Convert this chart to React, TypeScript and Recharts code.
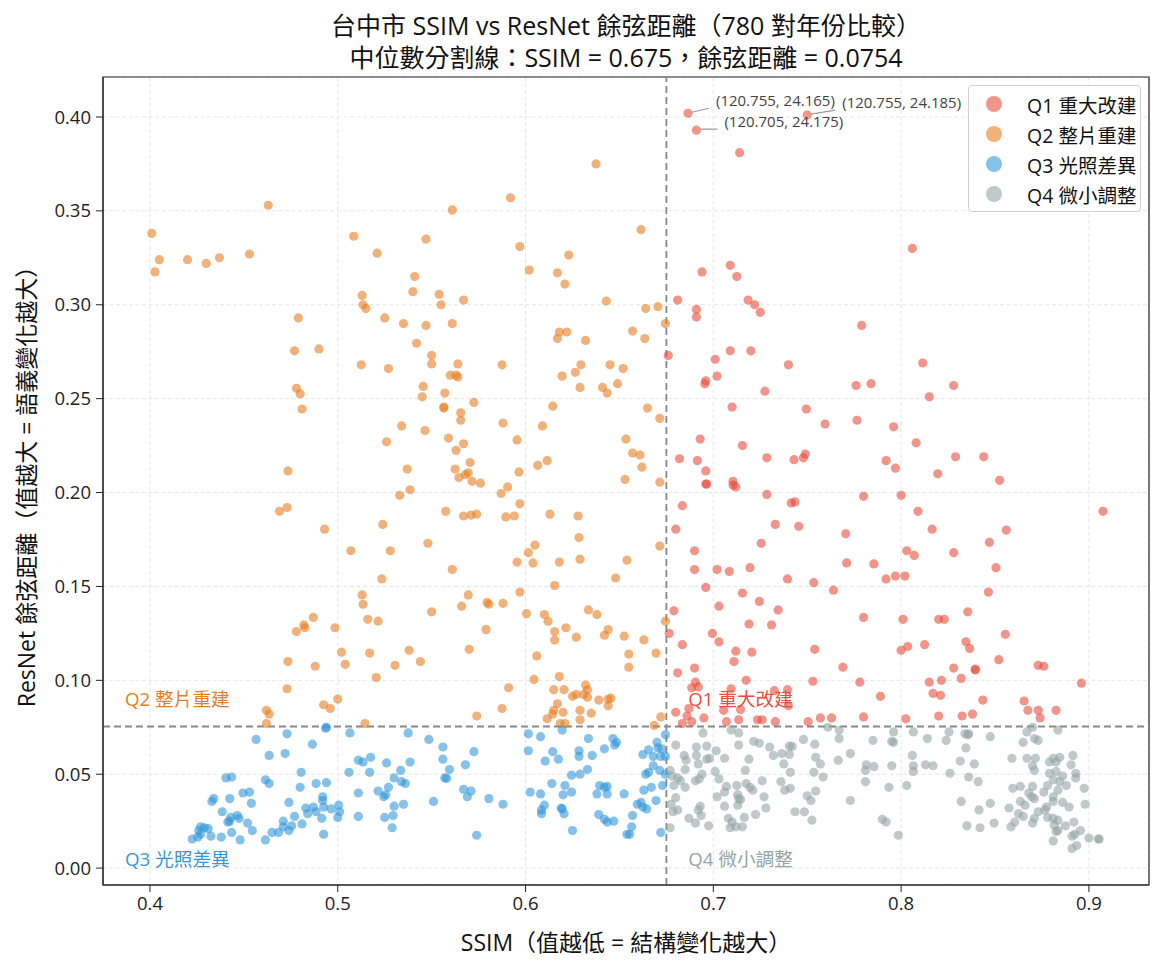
import React from "react";
import {
  ScatterChart,
  Scatter,
  XAxis,
  YAxis,
  CartesianGrid,
  ReferenceLine,
  ReferenceDot,
  ReferenceArea,
} from "recharts";

const FONT = '"Open Sans", "Noto Sans CJK TC", sans-serif';

// [SSIM, ResNet cosine distance]
const q1Points: [number, number][] = [
  [0.6865, 0.402], [0.691, 0.393], [0.714, 0.381], [0.75, 0.401], [0.806, 0.33],
  [0.694, 0.3175], [0.709, 0.321], [0.7125, 0.315], [0.681, 0.3025], [0.691, 0.2975],
  [0.691, 0.2935], [0.7185, 0.3025], [0.722, 0.3], [0.725, 0.296], [0.779, 0.289],
  [0.676, 0.273], [0.701, 0.271], [0.709, 0.2755], [0.72, 0.2755], [0.74, 0.268],
  [0.702, 0.262], [0.696, 0.2595], [0.6955, 0.258], [0.7275, 0.254], [0.776, 0.257],
  [0.784, 0.258], [0.71, 0.2455], [0.7495, 0.2445], [0.7595, 0.2365], [0.7765, 0.2385],
  [0.693, 0.2285], [0.7155, 0.225], [0.682, 0.218], [0.6915, 0.217], [0.7285, 0.2185],
  [0.743, 0.2175], [0.748, 0.2185], [0.749, 0.2205], [0.792, 0.217], [0.696, 0.2115],
  [0.696, 0.2045], [0.6965, 0.2045], [0.7105, 0.206], [0.7105, 0.204], [0.712, 0.203],
  [0.7285, 0.199], [0.78, 0.198], [0.6835, 0.193], [0.7415, 0.1945], [0.7435, 0.195],
  [0.733, 0.183], [0.7455, 0.182], [0.68, 0.1805], [0.7705, 0.178], [0.7255, 0.173],
  [0.69, 0.169], [0.69, 0.159], [0.702, 0.159], [0.7085, 0.158], [0.7195, 0.16],
  [0.771, 0.1625], [0.7855, 0.162], [0.7395, 0.154], [0.7535, 0.152], [0.792, 0.154],
  [0.696, 0.1495], [0.764, 0.148], [0.7155, 0.1465], [0.703, 0.1395], [0.7245, 0.142],
  [0.7345, 0.1375], [0.679, 0.137], [0.78, 0.1335],
  [0.8115, 0.269], [0.828, 0.257], [0.815, 0.251], [0.796, 0.235], [0.808, 0.2265],
  [0.797, 0.213], [0.829, 0.219], [0.844, 0.219], [0.8195, 0.21], [0.8525, 0.2065],
  [0.8, 0.1985], [0.809, 0.19], [0.9075, 0.19], [0.8165, 0.1805], [0.856, 0.18],
  [0.847, 0.1735], [0.803, 0.169], [0.807, 0.1665], [0.828, 0.168], [0.8505, 0.16],
  [0.797, 0.1555], [0.802, 0.1555], [0.8465, 0.147], [0.8355, 0.1365], [0.801, 0.1325],
  [0.82, 0.1325], [0.823, 0.1325],
  [0.8555, 0.1245], [0.8, 0.116], [0.8035, 0.118], [0.8125, 0.119], [0.8345, 0.1205],
  [0.8365, 0.117], [0.852, 0.111], [0.828, 0.1065], [0.8395, 0.106], [0.8395, 0.1055],
  [0.873, 0.108], [0.876, 0.1075], [0.832, 0.101], [0.815, 0.099], [0.8215, 0.1],
  [0.896, 0.0985], [0.817, 0.093], [0.821, 0.092], [0.8435, 0.0895], [0.8655, 0.089],
  [0.8675, 0.084], [0.873, 0.084], [0.8825, 0.084], [0.874, 0.08], [0.8025, 0.0795],
  [0.82, 0.081], [0.8325, 0.081], [0.838, 0.082],
  [0.719, 0.13], [0.731, 0.1295], [0.6765, 0.125], [0.6995, 0.125], [0.6835, 0.119],
  [0.703, 0.1205], [0.712, 0.1155], [0.7205, 0.115], [0.711, 0.11], [0.754, 0.1165],
  [0.69, 0.1065], [0.681, 0.104], [0.769, 0.107], [0.7175, 0.1], [0.753, 0.0995],
  [0.778, 0.099], [0.6905, 0.099], [0.6885, 0.096], [0.692, 0.0965], [0.789, 0.0915],
  [0.7095, 0.0955], [0.7325, 0.0945], [0.7395, 0.095], [0.74, 0.0865], [0.687, 0.085],
  [0.68, 0.083], [0.7145, 0.0845], [0.7055, 0.084], [0.686, 0.081], [0.695, 0.08],
  [0.6835, 0.077], [0.6885, 0.078], [0.707, 0.078], [0.7135, 0.079], [0.7235, 0.079],
  [0.726, 0.079], [0.733, 0.078], [0.7505, 0.078], [0.757, 0.08], [0.763, 0.08],
  [0.78, 0.0805],
];

const q2Points: [number, number][] = [
  [0.401, 0.338], [0.4027, 0.3175], [0.405, 0.324], [0.42, 0.324], [0.43, 0.322],
  [0.437, 0.325], [0.453, 0.327], [0.463, 0.353], [0.5085, 0.3365], [0.513, 0.305],
  [0.5135, 0.3], [0.515, 0.298], [0.479, 0.293], [0.49, 0.2765],
  [0.6375, 0.375], [0.592, 0.357], [0.561, 0.3505], [0.547, 0.335], [0.521, 0.3275],
  [0.597, 0.331], [0.623, 0.3265], [0.602, 0.3185], [0.617, 0.317], [0.621, 0.311],
  [0.541, 0.315], [0.54, 0.307], [0.554, 0.3055], [0.555, 0.3], [0.567, 0.3025],
  [0.643, 0.302], [0.525, 0.293], [0.535, 0.29], [0.547, 0.289], [0.561, 0.29],
  [0.542, 0.2795], [0.618, 0.2855], [0.617, 0.282], [0.622, 0.2855], [0.632, 0.281],
  [0.6615, 0.34], [0.664, 0.298], [0.6705, 0.299], [0.6745, 0.29], [0.657, 0.286],
  [0.6635, 0.282],
  [0.477, 0.2755], [0.5125, 0.268], [0.478, 0.2555], [0.48, 0.2525], [0.481, 0.2445],
  [0.4735, 0.2115], [0.473, 0.192], [0.469, 0.19], [0.493, 0.1805], [0.507, 0.169],
  [0.513, 0.1455], [0.5135, 0.1405], [0.487, 0.1335],
  [0.527, 0.266], [0.55, 0.273], [0.55, 0.2685], [0.564, 0.2685], [0.56, 0.2625],
  [0.563, 0.2625], [0.564, 0.2615], [0.5875, 0.268], [0.5455, 0.2565], [0.545, 0.251],
  [0.557, 0.253], [0.5565, 0.2455], [0.5565, 0.245], [0.5725, 0.248], [0.5655, 0.2425],
  [0.5655, 0.2385], [0.534, 0.2355], [0.5465, 0.233], [0.588, 0.237], [0.526, 0.227],
  [0.559, 0.229], [0.567, 0.226], [0.563, 0.2225], [0.5955, 0.228], [0.5705, 0.216],
  [0.537, 0.2125], [0.5625, 0.2125], [0.5695, 0.2105], [0.568, 0.2095], [0.5645, 0.208],
  [0.5715, 0.206], [0.576, 0.205], [0.5965, 0.211], [0.5385, 0.2015], [0.533, 0.1985],
  [0.587, 0.1995], [0.5905, 0.203], [0.597, 0.194], [0.5575, 0.19], [0.567, 0.1875],
  [0.571, 0.188], [0.574, 0.1885], [0.5895, 0.187], [0.594, 0.1875], [0.524, 0.183],
  [0.548, 0.173], [0.528, 0.169], [0.561, 0.159], [0.5235, 0.154], [0.6065, 0.2145],
  [0.6115, 0.217], [0.6145, 0.246], [0.609, 0.2355], [0.6195, 0.262], [0.6265, 0.264],
  [0.6295, 0.268], [0.629, 0.256], [0.641, 0.256], [0.6435, 0.253], [0.645, 0.268],
  [0.649, 0.258], [0.652, 0.266], [0.6535, 0.2285], [0.653, 0.207], [0.613, 0.1885],
  [0.628, 0.1875], [0.6285, 0.176], [0.629, 0.1645], [0.618, 0.163], [0.605, 0.172],
  [0.6015, 0.168], [0.604, 0.1625], [0.5955, 0.163], [0.648, 0.1545], [0.6155, 0.1505],
  [0.597, 0.147], [0.5695, 0.1455], [0.566, 0.1395], [0.5795, 0.1415], [0.5805, 0.1405],
  [0.588, 0.141], [0.55, 0.1365], [0.6005, 0.1355], [0.61, 0.135], [0.6335, 0.1375],
  [0.638, 0.135], [0.654, 0.164],
  [0.665, 0.245], [0.6715, 0.2395], [0.657, 0.221], [0.661, 0.22], [0.662, 0.2135],
  [0.6715, 0.2055], [0.6715, 0.1715],
  [0.6745, 0.1315], [0.663, 0.1215], [0.6695, 0.1145], [0.655, 0.114], [0.655, 0.107],
  [0.672, 0.0805], [0.6685, 0.076],
  [0.516, 0.1325], [0.5215, 0.1315], [0.579, 0.127], [0.517, 0.1145], [0.538, 0.116],
  [0.5305, 0.108], [0.544, 0.11], [0.57, 0.1165], [0.5205, 0.1015], [0.591, 0.096],
  [0.5875, 0.085], [0.574, 0.081], [0.5145, 0.077], [0.612, 0.1315], [0.6215, 0.128],
  [0.6155, 0.126], [0.6155, 0.1215], [0.627, 0.123], [0.642, 0.124], [0.644, 0.127],
  [0.6525, 0.1235], [0.606, 0.113], [0.6045, 0.1005], [0.618, 0.102], [0.615, 0.095],
  [0.6205, 0.095], [0.632, 0.0975], [0.633, 0.095], [0.625, 0.0915], [0.627, 0.0925],
  [0.631, 0.0925], [0.633, 0.091], [0.639, 0.0895], [0.644, 0.09], [0.6455, 0.0905],
  [0.644, 0.0865], [0.617, 0.0875], [0.615, 0.084], [0.6145, 0.082], [0.62, 0.083],
  [0.629, 0.084], [0.635, 0.0825], [0.6115, 0.0795], [0.629, 0.079], [0.6185, 0.077],
  [0.621, 0.077],
  [0.478, 0.126], [0.482, 0.1295], [0.4825, 0.128], [0.4985, 0.128], [0.4735, 0.11],
  [0.488, 0.1075], [0.502, 0.115], [0.504, 0.1085], [0.473, 0.0955], [0.5, 0.09],
  [0.4925, 0.087], [0.496, 0.085], [0.462, 0.084], [0.4635, 0.082], [0.462, 0.077],
];

const q3Points: [number, number][] = [
  [0.494, 0.075], [0.4935, 0.0745], [0.473, 0.0715], [0.4565, 0.0685], [0.5065, 0.072],
  [0.4865, 0.066], [0.4635, 0.06], [0.472, 0.061], [0.511, 0.0575], [0.5135, 0.0565],
  [0.506, 0.051], [0.4805, 0.051], [0.4405, 0.048], [0.4435, 0.0485], [0.4615, 0.047],
  [0.4635, 0.045], [0.494, 0.0455], [0.4885, 0.045], [0.48, 0.043], [0.4495, 0.04],
  [0.453, 0.0405], [0.511, 0.04], [0.434, 0.037], [0.433, 0.0355], [0.4425, 0.037],
  [0.454, 0.0345], [0.474, 0.035], [0.492, 0.038], [0.492, 0.036], [0.4925, 0.0325],
  [0.483, 0.032], [0.487, 0.0325], [0.484, 0.029], [0.4885, 0.03], [0.4965, 0.0315],
  [0.5005, 0.0335], [0.501, 0.03], [0.5, 0.027], [0.4915, 0.0265], [0.511, 0.0275],
  [0.477, 0.0275], [0.4385, 0.03], [0.443, 0.027], [0.4465, 0.028], [0.4475, 0.0265],
  [0.4415, 0.0245], [0.4425, 0.025], [0.452, 0.024], [0.471, 0.025], [0.481, 0.0235],
  [0.4545, 0.02], [0.4435, 0.019], [0.471, 0.022], [0.4755, 0.0225], [0.474, 0.02],
  [0.4685, 0.019], [0.465, 0.019], [0.427, 0.022], [0.429, 0.0215], [0.431, 0.021],
  [0.426, 0.02], [0.427, 0.018], [0.4325, 0.017], [0.4255, 0.0165], [0.4225, 0.0155],
  [0.438, 0.0165], [0.448, 0.015], [0.4615, 0.015], [0.4925, 0.018],
  [0.5375, 0.072], [0.5485, 0.0685], [0.556, 0.0645], [0.556, 0.058], [0.5595, 0.0525],
  [0.5725, 0.062], [0.568, 0.055], [0.557, 0.048], [0.558, 0.0478], [0.5175, 0.059],
  [0.526, 0.056], [0.5385, 0.0565], [0.517, 0.051], [0.5335, 0.052], [0.53, 0.048],
  [0.534, 0.046], [0.536, 0.045], [0.5215, 0.041], [0.527, 0.043], [0.5245, 0.038],
  [0.5255, 0.039], [0.53, 0.033], [0.535, 0.034], [0.525, 0.027], [0.5295, 0.028],
  [0.529, 0.0215], [0.551, 0.0355], [0.567, 0.042], [0.571, 0.041], [0.569, 0.038],
  [0.5805, 0.037], [0.588, 0.034], [0.574, 0.0175], [0.6015, 0.0715], [0.608, 0.07],
  [0.6195, 0.0735], [0.6015, 0.0625], [0.6145, 0.062], [0.6105, 0.057], [0.6175, 0.058],
  [0.6335, 0.069], [0.6285, 0.0625], [0.6285, 0.0595], [0.6355, 0.06], [0.642, 0.0635],
  [0.6465, 0.069], [0.6475, 0.0655], [0.6485, 0.067], [0.6245, 0.0495], [0.629, 0.05],
  [0.633, 0.0525], [0.614, 0.045], [0.621, 0.044], [0.6025, 0.0405], [0.608, 0.0395],
  [0.62, 0.039], [0.6245, 0.0405], [0.6395, 0.044], [0.642, 0.043], [0.6435, 0.0435],
  [0.638, 0.0395], [0.6435, 0.0395], [0.6525, 0.0395], [0.61, 0.0335], [0.6085, 0.031],
  [0.6085, 0.029], [0.619, 0.032], [0.6195, 0.0315], [0.6205, 0.029], [0.639, 0.0285],
  [0.642, 0.026], [0.6435, 0.0245], [0.647, 0.025], [0.625, 0.02], [0.654, 0.018],
  [0.6745, 0.071], [0.67, 0.067], [0.6625, 0.0605], [0.6655, 0.063], [0.6705, 0.064],
  [0.6725, 0.0635], [0.668, 0.0595], [0.672, 0.0595], [0.6745, 0.0595], [0.668, 0.0545],
  [0.6715, 0.052], [0.664, 0.05], [0.6655, 0.051], [0.6745, 0.05], [0.673, 0.044],
  [0.667, 0.043], [0.663, 0.0415], [0.6695, 0.036], [0.6595, 0.034], [0.6615, 0.035],
  [0.6625, 0.0325], [0.6645, 0.0315], [0.657, 0.028], [0.6565, 0.022], [0.6555, 0.018],
  [0.672, 0.019],
];

const q4Points: [number, number][] = [
  [0.6945, 0.072], [0.7095, 0.0735], [0.7135, 0.072], [0.68, 0.0655], [0.691, 0.0645],
  [0.6965, 0.065], [0.7135, 0.0655], [0.7215, 0.0675], [0.7245, 0.0665], [0.73, 0.0645],
  [0.7405, 0.065], [0.742, 0.0648], [0.748, 0.0685], [0.754, 0.066], [0.761, 0.075],
  [0.767, 0.0735], [0.767, 0.069], [0.785, 0.068], [0.6845, 0.06], [0.691, 0.06],
  [0.7015, 0.0625], [0.6855, 0.0575], [0.692, 0.0555], [0.6965, 0.058], [0.698, 0.0585],
  [0.706, 0.0585], [0.719, 0.058], [0.732, 0.06], [0.7365, 0.061], [0.7405, 0.0605],
  [0.7545, 0.059], [0.757, 0.0555], [0.773, 0.061], [0.7665, 0.0575], [0.7375, 0.0555],
  [0.677, 0.052], [0.685, 0.0525], [0.694, 0.05], [0.701, 0.0515], [0.717, 0.052],
  [0.741, 0.051], [0.7535, 0.051], [0.7815, 0.055], [0.7855, 0.054], [0.781, 0.052],
  [0.678, 0.049], [0.681, 0.048], [0.6825, 0.0465], [0.6925, 0.0475], [0.6905, 0.0465],
  [0.703, 0.0475], [0.679, 0.044], [0.685, 0.043], [0.707, 0.0435], [0.7125, 0.044],
  [0.7175, 0.045], [0.7195, 0.043], [0.721, 0.0415], [0.726, 0.0465], [0.736, 0.046],
  [0.738, 0.0415], [0.741, 0.0425], [0.7585, 0.0485], [0.7545, 0.041], [0.781, 0.046],
  [0.706, 0.0405], [0.713, 0.039], [0.7135, 0.037], [0.7145, 0.0365], [0.702, 0.038],
  [0.727, 0.038], [0.75, 0.0385], [0.752, 0.036], [0.773, 0.036], [0.68, 0.0375],
  [0.6775, 0.034], [0.706, 0.033], [0.713, 0.0335], [0.693, 0.033], [0.692, 0.031],
  [0.6785, 0.03], [0.681, 0.031], [0.728, 0.032], [0.7435, 0.03], [0.7485, 0.03],
  [0.7225, 0.0285], [0.6935, 0.028], [0.687, 0.0265], [0.708, 0.0265], [0.71, 0.0245],
  [0.7165, 0.027], [0.7525, 0.0255], [0.6905, 0.024], [0.6975, 0.0225], [0.709, 0.0215],
  [0.712, 0.022], [0.7155, 0.022], [0.677, 0.0215], [0.79, 0.026], [0.792, 0.0245],
  [0.796, 0.0725], [0.8065, 0.0725], [0.8255, 0.0725], [0.834, 0.0715], [0.836, 0.0715],
  [0.8355, 0.071], [0.814, 0.069], [0.824, 0.068], [0.8475, 0.07], [0.87, 0.075],
  [0.867, 0.0725], [0.8835, 0.0735], [0.871, 0.069], [0.873, 0.068], [0.865, 0.067],
  [0.795, 0.0675], [0.796, 0.067], [0.8345, 0.064], [0.806, 0.06], [0.795, 0.0545],
  [0.8065, 0.0545], [0.8065, 0.0515], [0.813, 0.055], [0.817, 0.0545], [0.8315, 0.057],
  [0.839, 0.0555], [0.826, 0.0505], [0.836, 0.0485], [0.841, 0.046], [0.859, 0.0585],
  [0.867, 0.0585], [0.8715, 0.0585], [0.87, 0.0545], [0.871, 0.052], [0.879, 0.0565],
  [0.881, 0.0585], [0.8845, 0.059], [0.8915, 0.06], [0.8905, 0.055], [0.8825, 0.0565],
  [0.879, 0.0505], [0.8825, 0.0515], [0.886, 0.049], [0.893, 0.0505], [0.893, 0.048],
  [0.881, 0.047], [0.8845, 0.046], [0.888, 0.044], [0.878, 0.044], [0.8975, 0.0425],
  [0.8835, 0.0415], [0.87, 0.0435], [0.876, 0.0405], [0.8635, 0.0435], [0.8595, 0.0425],
  [0.868, 0.04], [0.871, 0.037], [0.8695, 0.038], [0.881, 0.038], [0.881, 0.0355],
  [0.886, 0.035], [0.8895, 0.0325], [0.898, 0.034], [0.8635, 0.0355], [0.866, 0.0335],
  [0.8575, 0.032], [0.873, 0.03], [0.8775, 0.0325], [0.8765, 0.031], [0.8625, 0.029],
  [0.865, 0.0275], [0.871, 0.0265], [0.87, 0.024], [0.878, 0.027], [0.881, 0.0265],
  [0.8835, 0.0255], [0.892, 0.0245], [0.8605, 0.0245], [0.8585, 0.022], [0.8815, 0.023],
  [0.8875, 0.0225], [0.8825, 0.0195], [0.8835, 0.02], [0.8955, 0.02], [0.8925, 0.018],
  [0.891, 0.017], [0.881, 0.0145], [0.8935, 0.012], [0.891, 0.0105], [0.9, 0.016],
  [0.905, 0.0155], [0.9055, 0.0155], [0.832, 0.0355], [0.8415, 0.031], [0.8475, 0.0345],
  [0.8495, 0.024], [0.842, 0.0215], [0.835, 0.0225], [0.803, 0.044], [0.7935, 0.043],
  [0.7985, 0.0175],
];

const xTicks = [0.4, 0.5, 0.6, 0.7, 0.8, 0.9];
const yTicks = [0, 0.05, 0.1, 0.15, 0.2, 0.25, 0.3, 0.35, 0.4];
const X_DOMAIN: [number, number] = [0.375, 0.932];
const Y_DOMAIN: [number, number] = [-0.009, 0.4213];
const SSIM_MEDIAN = 0.675;
const DIST_MEDIAN = 0.0754;

const series = [
  { name: "Q1 重大改建", color: "#e74c3c", points: q1Points },
  { name: "Q2 整片重建", color: "#e67e22", points: q2Points },
  { name: "Q3 光照差異", color: "#3498db", points: q3Points },
  { name: "Q4 微小調整", color: "#95a5a6", points: q4Points },
];

const quadrantLabels = [
  { text: "Q2 整片重建", ssim: 0.3867, dist: 0.0905, color: "#e67e22" },
  { text: "Q1 重大改建", ssim: 0.6866, dist: 0.0905, color: "#e74c3c" },
  { text: "Q3 光照差異", ssim: 0.3867, dist: 0.0053, color: "#3498db" },
  { text: "Q4 微小調整", ssim: 0.6866, dist: 0.0053, color: "#95a5a6" },
];

const annotations = [
  { ssim: 0.6865, dist: 0.402, label: "(120.755, 24.165)" },
  { ssim: 0.691, dist: 0.393, label: "(120.705, 24.175)" },
  { ssim: 0.75, dist: 0.401, label: "(120.755, 24.185)" },
];
// extra nudges (px) so the annotation texts do not collide
const annotationNudgeX = [0, 0, 7];
const annotationNudgeY = [-2, 2, -2];

const toRows = (pts: [number, number][]) =>
  pts.map(([ssim, dist]) => ({ ssim, dist }));

const dotShape = (color: string) => (p: any) =>
  <circle cx={p.cx} cy={p.cy} r={4.6} fill={color} fillOpacity={0.6} />;

export default function App() {
  return (
    <div
      style={{
        position: "absolute",
        left: 0,
        top: 0,
        width: 1165,
        height: 970,
        background: "#fff",
        fontFamily: FONT,
        color: "#111",
      }}
    >
      <div
        style={{
          position: "absolute",
          left: 226,
          top: 9,
          width: 800,
          textAlign: "center",
          fontSize: 25,
          lineHeight: "32px",
        }}
      >
        <div>台中市 SSIM vs ResNet 餘弦距離（780 對年份比較）</div>
        <div>中位數分割線：SSIM = 0.675，餘弦距離 = 0.0754</div>
      </div>

      <ScatterChart
        width={1165}
        height={970}
        margin={{ top: 77, right: 16, bottom: 55, left: 43 }}
      >
        <CartesianGrid stroke="#e6e6e6" strokeDasharray="4 2.5" />
        <XAxis
          type="number"
          dataKey="ssim"
          domain={X_DOMAIN}
          ticks={xTicks}
          allowDataOverflow
          height={30}
          tickFormatter={(v: number) => v.toFixed(1)}
          tick={{ fill: "#222", fontSize: 18.5, fontFamily: FONT }}
          tickSize={7}
          tickMargin={5}
          stroke="#222"
        />
        <YAxis
          type="number"
          dataKey="dist"
          domain={Y_DOMAIN}
          ticks={yTicks}
          allowDataOverflow
          width={60}
          tickFormatter={(v: number) => v.toFixed(2)}
          tick={{ fill: "#222", fontSize: 18.5, fontFamily: FONT }}
          tickSize={7}
          tickMargin={5}
          stroke="#222"
        />
        <ReferenceArea
          x1={X_DOMAIN[0]}
          x2={X_DOMAIN[1]}
          y1={Y_DOMAIN[0]}
          y2={Y_DOMAIN[1]}
          fill="none"
          stroke="#222"
          strokeWidth={1.2}
        />
        {series.map((s) => (
          <Scatter
            key={s.name}
            name={s.name}
            data={toRows(s.points)}
            shape={dotShape(s.color)}
            isAnimationActive={false}
          />
        ))}
        <ReferenceLine
          x={SSIM_MEDIAN}
          stroke="#888"
          strokeWidth={1.8}
          strokeDasharray="7 4"
        />
        <ReferenceLine
          y={DIST_MEDIAN}
          stroke="#888"
          strokeWidth={1.8}
          strokeDasharray="7 4"
        />
        {quadrantLabels.map((q) => (
          <ReferenceDot
            key={q.text}
            x={q.ssim}
            y={q.dist}
            r={0}
            ifOverflow="visible"
            shape={(p: any) => (
              <text
                x={p.cx}
                y={p.cy}
                dominantBaseline="central"
                fill={q.color}
                fontSize={18.7}
                fontFamily={FONT}
              >
                {q.text}
              </text>
            )}
          />
        ))}
        {annotations.map((a, i) => (
          <ReferenceDot
            key={a.label}
            x={a.ssim}
            y={a.dist}
            r={0}
            ifOverflow="visible"
            shape={(p: any) => (
              <g>
                <line
                  x1={p.cx + 4}
                  y1={p.cy - 1}
                  x2={p.cx + 21 + annotationNudgeX[i]}
                  y2={p.cy - 3 + annotationNudgeY[i]}
                  stroke="#999"
                  strokeWidth={1.2}
                />
                <text
                  x={p.cx + 28 + annotationNudgeX[i]}
                  y={p.cy - 5 + annotationNudgeY[i]}
                  fill="#444"
                  fontSize={15}
                  fontFamily={FONT}
                >
                  {a.label}
                </text>
              </g>
            )}
          />
        ))}
      </ScatterChart>

      <div
        style={{
          position: "absolute",
          left: 226,
          top: 926,
          width: 800,
          textAlign: "center",
          fontSize: 23,
          lineHeight: "32px",
        }}
      >
        SSIM（值越低 = 結構變化越大）
      </div>
      <div
        style={{
          position: "absolute",
          left: 25,
          top: 481,
          transform: "translate(-50%, -50%) rotate(-90deg)",
          whiteSpace: "nowrap",
          fontSize: 23,
        }}
      >
        ResNet 餘弦距離（值越大 = 語義變化越大）
      </div>

      <div
        style={{
          position: "absolute",
          left: 968,
          top: 85,
          width: 173,
          height: 127,
          boxSizing: "border-box",
          border: "1px solid #d0d0d0",
          borderRadius: 4,
          background: "rgba(255,255,255,0.85)",
        }}
      >
        {series.map((s, i) => (
          <div
            key={s.name}
            style={{
              position: "absolute",
              left: 0,
              top: 18 + i * 30 - 12,
              height: 24,
              display: "flex",
              alignItems: "center",
              fontSize: 19.5,
              whiteSpace: "nowrap",
            }}
          >
            <span
              style={{
                display: "inline-block",
                width: 16,
                height: 16,
                borderRadius: "50%",
                background: s.color,
                opacity: 0.6,
                marginLeft: 17,
                marginRight: 25,
              }}
            />
            <span>{s.name}</span>
          </div>
        ))}
      </div>
    </div>
  );
}
